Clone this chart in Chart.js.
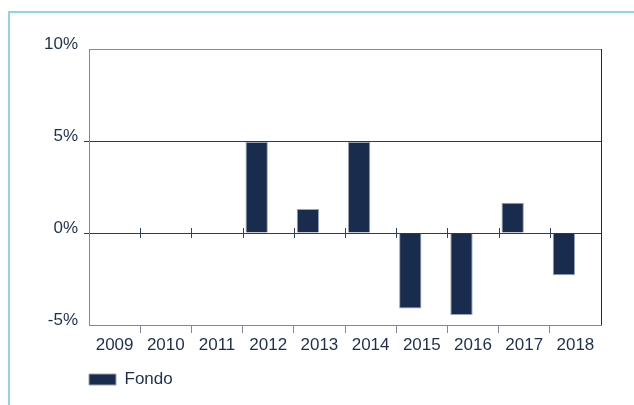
<!DOCTYPE html>
<html>
<head>
<meta charset="utf-8">
<script src="https://cdn.jsdelivr.net/npm/chart.js@4"></script>
<style>
  html, body { margin: 0; padding: 0; background: #fff; }
  #wrap { position: relative; width: 634px; height: 405px; overflow: hidden; }
  #frame { position: absolute; left: 8px; top: 11px; right: -4px; bottom: -4px; border-left: 2px solid #8fd3ec; border-top: 2px solid #8fd3ec; }
  canvas { position: absolute; left: 0; top: 0; }
</style>
</head>
<body>
<div id="wrap">
  <div id="frame"></div>
  <canvas id="perfChart" width="634" height="405"></canvas>
</div>
<script>
const years = ['2009', '2010', '2011', '2012', '2013', '2014', '2015', '2016', '2017', '2018'];
const fondo = [null, null, null, 4.95, 1.3, 4.95, -4.1, -4.45, 1.65, -2.3];
const benchmark = [null, null, null, null, null, null, null, null, null, null];
const yTicks = [-5, 0, 5, 10];

const navy = '#1a2c4e';
const grey = '#7f8999';
const textColor = '#1f2f4c';
const font = { family: 'Liberation Sans, Arial', size: 17 };

// piccoli tick sulla linea dello zero + bordo destro + legenda allineata all'asse
const extras = {
    id: 'extras',
    afterLayout(chart) {
        chart.legend.left = chart.chartArea.left - 10;
    },
    afterDraw(chart) {
        const { ctx, chartArea, scales } = chart;
        const x = scales.x, y = scales.y;
        const y0 = y.getPixelForValue(0);
        ctx.save();
        ctx.strokeStyle = '#33415f';
        ctx.lineWidth = 1;
        for (let i = 1; i < years.length; i++) {
            const px = Math.round((x.getPixelForTick(i - 1) + x.getPixelForTick(i)) / 2) + 0.5;
            ctx.beginPath();
            ctx.moveTo(px, y0 - 5);
            ctx.lineTo(px, y0 + 5);
            ctx.stroke();
        }
        ctx.strokeStyle = navy;
        ctx.beginPath();
        ctx.moveTo(Math.round(chartArea.right) + 0.5, chartArea.top);
        ctx.lineTo(Math.round(chartArea.right) + 0.5, chartArea.bottom);
        ctx.stroke();
        ctx.restore();
    }
};

new Chart(document.getElementById('perfChart'), {
    type: 'bar',
    data: {
        labels: years,
        datasets: [
            { label: 'Fondo', data: fondo, backgroundColor: navy, borderColor: '#98a3b5', borderWidth: 1, barPercentage: 0.97, categoryPercentage: 0.9 },
            { label: 'Benchmark', data: benchmark, backgroundColor: '#8fa0b8', barPercentage: 0.97, categoryPercentage: 0.9 }
        ]
    },
    options: {
        responsive: false,
        animation: false,
        layout: { padding: { left: 0, right: 33, top: 49, bottom: 7 } },
        plugins: {
            tooltip: { enabled: false },
            legend: {
                position: 'bottom',
                align: 'start',
                labels: {
                    boxWidth: 27,
                    boxHeight: 11,
                    color: textColor,
                    font: font,
                    filter: item => item.text === 'Fondo'
                }
            }
        },
        scales: {
            x: {
                afterFit: s => { s.height = 36; },
                grid: {
                    offset: true,
                    drawOnChartArea: false,
                    tickLength: 8,
                    color: grey,
                    tickColor: c => (c.type === 'tick' && c.index > 0) ? grey : 'rgba(0,0,0,0)'
                },
                border: { color: grey, width: 1 },
                ticks: { color: textColor, padding: 2, font: font, maxRotation: 0 }
            },
            y: {
                min: -5,
                max: 10,
                afterFit: s => { s.width = 89; },
                afterBuildTicks: s => { s.ticks = yTicks.map(v => ({ value: v })); },
                grid: {
                    tickLength: 5,
                    color: c => (c.tick.value === 0 || c.tick.value === 5) ? '#2b3a58' : grey,
                    tickColor: c => (c.tick.value === 0 || c.tick.value === 5) ? '#2b3a58' : 'rgba(0,0,0,0)'
                },
                border: { color: grey, width: 1 },
                ticks: {
                    color: textColor,
                    padding: 6,
                    labelOffset: -5,
                    font: font,
                    callback: v => v + '%'
                }
            }
        }
    },
    plugins: [extras]
});
</script>
</body>
</html>
